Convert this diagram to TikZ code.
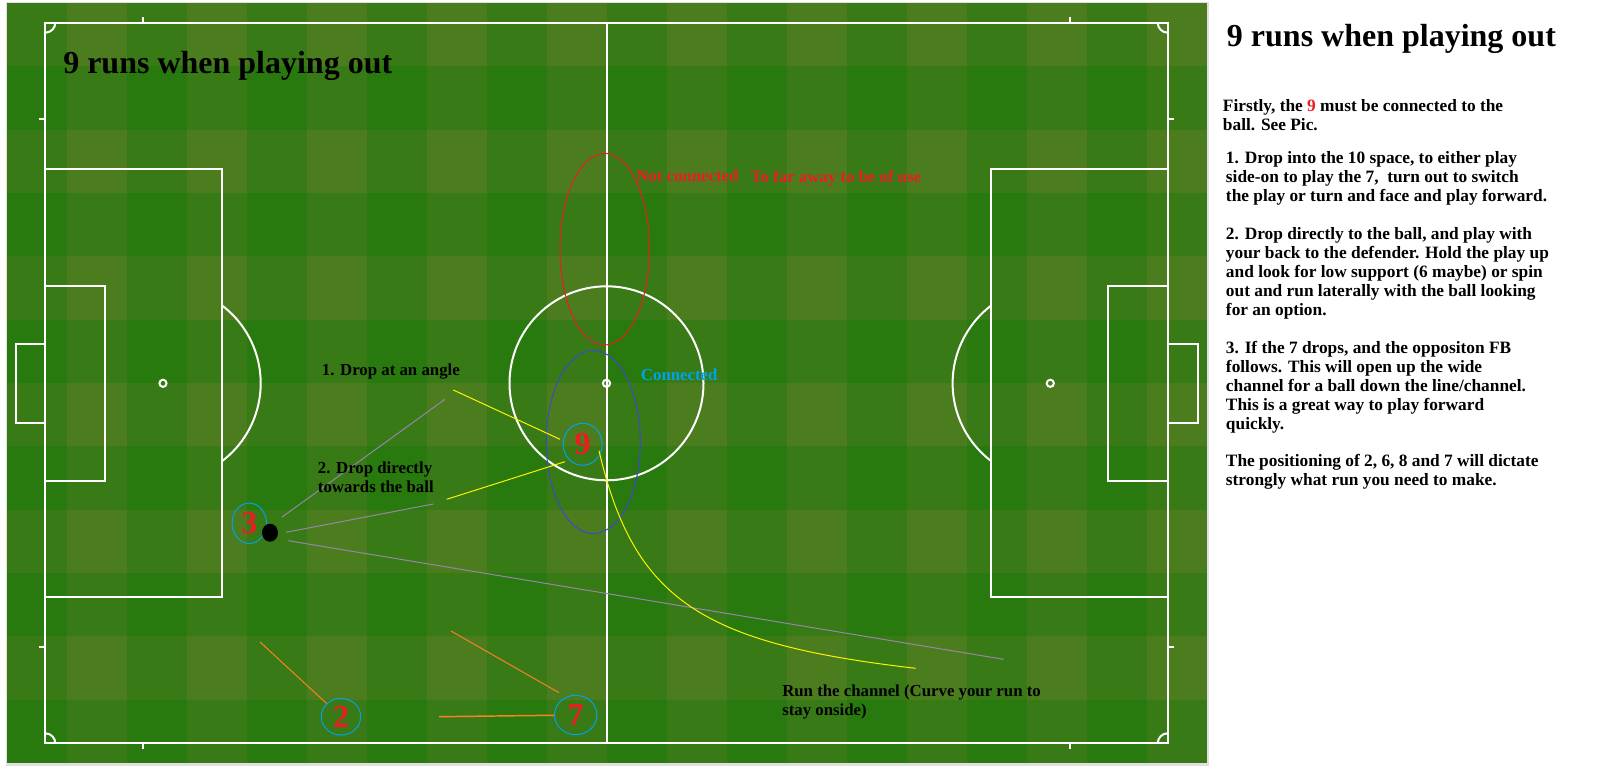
\documentclass[tikz,border=0pt]{standalone}
\usepackage{fontspec}
\setmainfont{Liberation Serif}
\usepackage{xcolor}
\usetikzlibrary{shapes.geometric}

\definecolor{grassdark}{RGB}{40,122,14}
\definecolor{grassmid}{RGB}{56,122,22}
\definecolor{grasslight}{RGB}{75,125,30}
\definecolor{paintred}{HTML}{ED1C24}
\definecolor{paintcyan}{HTML}{00A2E8}
\definecolor{paintblue}{HTML}{3F48CC}
\definecolor{paintorange}{HTML}{FF7F27}
\definecolor{paintyellow}{HTML}{FFF200}
\definecolor{runlilac}{RGB}{150,134,172}

\newcommand{\textrows}[1]{\begin{tabular}[t]{@{}l@{}}#1\end{tabular}}

\tikzset{
  pitchline/.style={white, line width=1.5pt},
  runline/.style={line width=0.75pt},
  player/.style={ellipse, draw=paintcyan, line width=0.75pt, inner sep=0pt, text=paintred, font=\fontsize{24pt}{24pt}\selectfont\bfseries},
  ballspot/.style={ellipse, fill=black, inner sep=0pt, minimum width=12pt, minimum height=13.5pt},
  note/.style={anchor=base west, inner sep=0pt, font=\fontsize{12.6pt}{14.3pt}\selectfont\bfseries},
  panel/.style={anchor=base west, inner sep=0pt, font=\fontsize{13pt}{14.3pt}\selectfont\bfseries},
  bigtitle/.style={anchor=base west, inner sep=0pt, font=\fontsize{24pt}{28pt}\selectfont\bfseries},
}

\begin{document}
\begin{tikzpicture}[x=0.75pt, y=-0.75pt]
      \useasboundingbox (0,0) rectangle (1613,767);
      \fill[white] (0,0) rectangle (1613,767);
      \fill[black!12] (6,2) rectangle (1209,766);

      % grass stripes
      \fill[grassdark] (7,3) rectangle (1207,763);
      \foreach \c in {0,...,9} \fill[grassmid] ({67+120*\c},3) rectangle ++(60,760);
      \foreach \r in {0,...,5} \fill[grassmid] (7,{3+126.67*\r}) rectangle ++(1200,63.33);
      \foreach \c in {0,...,9} \foreach \r in {0,...,5} \fill[grasslight] ({67+120*\c},{3+126.67*\r}) rectangle ++(60,63.33);

      % pitch markings
      \draw[pitchline] (45.3,22.7) rectangle (1167.7,743.3);
      \draw[pitchline] (606.5,22.7) -- (606.5,743.3);
      \draw[pitchline] (606.5,383.3) circle [radius=97];
      \draw[pitchline] (606.5,383.3) circle [radius=3.6];

      \draw[pitchline] (45.3,168.7) rectangle (221.7,597.3);
      \draw[pitchline] (45.3,286) rectangle (105,481.3);
      \draw[pitchline] (16,344) rectangle (45.3,422.7);
      \draw[pitchline] (163,383.3) circle [radius=3.6];
      \draw[pitchline] (163,383.3) ++(-52.8:97.7) arc [start angle=-52.8, end angle=52.8, radius=97.7];

      \draw[pitchline] (991.3,168.7) rectangle (1167.7,597.3);
      \draw[pitchline] (1108,286) rectangle (1167.7,481.3);
      \draw[pitchline] (1167.7,344) rectangle (1198,422.7);
      \draw[pitchline] (1050.3,383.3) circle [radius=3.6];
      \draw[pitchline] (1050.3,383.3) ++(127.2:97.7) arc [start angle=127.2, end angle=232.8, radius=97.7];

      \draw[pitchline] (55.3,22.7) arc [start angle=0, end angle=90, radius=10];
      \draw[pitchline] (1167.7,32.7) arc [start angle=90, end angle=180, radius=10];
      \draw[pitchline] (1157.7,743.3) arc [start angle=180, end angle=270, radius=10];
      \draw[pitchline] (45.3,733.3) arc [start angle=270, end angle=360, radius=10];

      \foreach \tx in {143,1070} {
        \draw[pitchline] (\tx,16.7) -- (\tx,22.7);
        \draw[pitchline] (\tx,743.3) -- (\tx,749.3);
      }
      \foreach \ty in {119,647} {
        \draw[pitchline] (39.3,\ty) -- (45.3,\ty);
        \draw[pitchline] (1167.7,\ty) -- (1173.7,\ty);
      }

      \node[bigtitle] (pitchtitle) at (63,74) {9 runs when playing out};

      % zones round the 9
      \draw[paintred, runline] (604.7,249.2) ellipse [x radius=44.7, y radius=95.8];
      \draw[paintblue, runline] (593.3,442) ellipse [x radius=47, y radius=91.5];
      \node[note, text=paintred] (farlabel) at (636,181.7) {Not connected};
      \node[note, text=paintred] (farnote) at (750.7,182.5) {To far away to be of use};
      \node[note, text=paintcyan] (nearlabel) at (640.7,380) {Connected};

      % players and ball
      \node[player, minimum width=29.3pt, minimum height=31.5pt] (p9) at (582.7,444.3) {9};
      \node[player, minimum width=25.8pt, minimum height=30.3pt] (p3) at (249.3,523.3) {3};
      \node[player, minimum width=29.6pt, minimum height=27.5pt] (p2) at (341,716.7) {2};
      \node[player, minimum width=31.8pt, minimum height=29.6pt] (p7) at (575.7,715) {7};
      \node[ballspot] (ball) at (270,532.7) {};

      % passing lanes from the ball
      \coordinate (g1a) at (281.7,517.3);
      \coordinate (g1b) at (445,399.3);
      \coordinate (g2a) at (286,532.3);
      \coordinate (g2b) at (433.3,504);
      \coordinate (g3a) at (288.3,540.7);
      \coordinate (g3b) at (1003.6,659.3);
      \draw[runlilac, runline] (g1a) -- (g1b);
      \draw[runlilac, runline] (g2a) -- (g2b);
      \draw[runlilac, runline] (g3a) -- (g3b);

      % runs of the 9
      \coordinate (y1a) at (453.3,390);
      \coordinate (y1b) at (560,439.3);
      \coordinate (y2a) at (446.7,499.3);
      \coordinate (y2b) at (565,461.7);
      \coordinate (y3a) at (599,450.7);
      \coordinate (y3b) at (915.6,668.3);
      \draw[paintyellow, runline] (y1a) -- (y1b);
      \draw[paintyellow, runline] (y2a) -- (y2b);
      \draw[paintyellow, runline] (y3a) .. controls (634,600.7) and (702.1,643.5) .. (y3b);

      % runs of the 2 and 7
      \coordinate (o1a) at (260,642);
      \coordinate (o2a) at (451,631);
      \coordinate (o2b) at (559,692.7);
      \coordinate (o3a) at (439,716.7);
      \draw[paintorange, runline] (o1a) -- (p2);
      \draw[paintorange, runline] (o2a) -- (o2b);
      \draw[paintorange, line width=1.1pt] (o3a) -- (p7);

      \node[note] (run1) at (321.7,375) {1. Drop at an angle};
      \node[note] (run2) at (317.7,473.3) {\textrows{2. Drop directly\\towards the ball}};
      \node[note] (run3) at (782,696) {\textrows{Run the channel (Curve your run to\\stay onside)}};

      % text beside the pitch
      \node[bigtitle] (paneltitle) at (1226.7,46.7) {9 runs when playing out};
      \node[panel] (intro) at (1222.7,111) {\textrows{Firstly, the \textcolor{paintred}{9} must be connected to the\\ball. See Pic.}};
      \node[panel] (step1) at (1225.7,163.3) {\textrows{1. Drop into the 10 space, to either play\\side-on to play the 7,\ \ turn out to switch\\the play or turn and face and play forward.}};
      \node[panel] (step2) at (1225.7,239.3) {\textrows{2. Drop directly to the ball, and play with\\your back to the defender. Hold the play up\\and look for low support (6 maybe) or spin\\out and run laterally with the ball looking\\for an option.}};
      \node[panel] (step3) at (1225.7,353.3) {\textrows{3. If the 7 drops, and the oppositon FB\\follows. This will open up the wide\\channel for a ball down the line/channel.\\This is a great way to play forward\\quickly.}};
      \node[panel] (closing) at (1225.7,466.7) {\textrows{The positioning of 2, 6, 8 and 7 will dictate\\strongly what run you need to make.}};
\end{tikzpicture}
\end{document}
